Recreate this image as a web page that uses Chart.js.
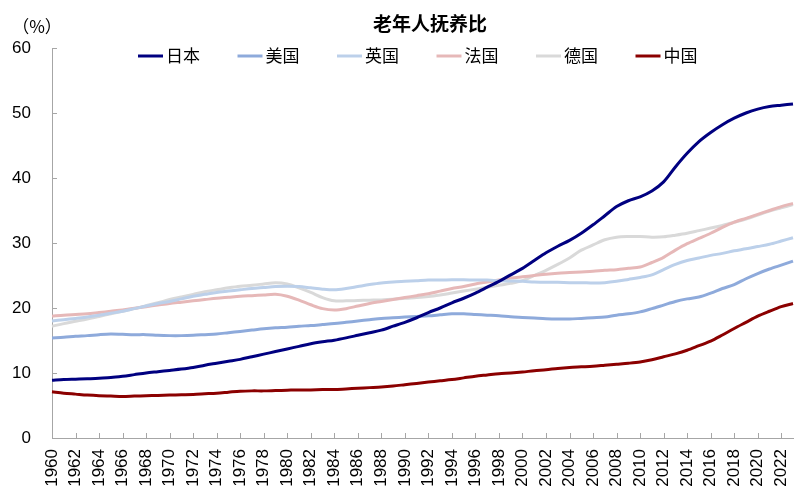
<!DOCTYPE html>
<html>
<head>
<meta charset="utf-8">
<script src="https://cdn.jsdelivr.net/npm/chart.js@4.4.0/dist/chart.umd.min.js"></script>
<style>
    html, body { margin: 0; padding: 0; background: #fff; }
    #wrap { width: 812px; height: 501px; }
</style>
</head>
<body>
<div id="wrap"><canvas id="chart"></canvas></div>
<script>
const titleText = "老年人抚养比";
const unitText = "（%）";

const years = [
    "1960", "1961", "1962", "1963", "1964", "1965", "1966", "1967", "1968", "1969",
    "1970", "1971", "1972", "1973", "1974", "1975", "1976", "1977", "1978", "1979",
    "1980", "1981", "1982", "1983", "1984", "1985", "1986", "1987", "1988", "1989",
    "1990", "1991", "1992", "1993", "1994", "1995", "1996", "1997", "1998", "1999",
    "2000", "2001", "2002", "2003", "2004", "2005", "2006", "2007", "2008", "2009",
    "2010", "2011", "2012", "2013", "2014", "2015", "2016", "2017", "2018", "2019",
    "2020", "2021", "2022", "2023"
];

const yTicks = [0, 10, 20, 30, 40, 50, 60];

const seriesNames = ["日本", "美国", "英国", "法国", "德国", "中国"];

const japan = [
    8.9, 9.0, 9.05, 9.1, 9.2, 9.3, 9.5, 9.75, 10.0, 10.2,
    10.4, 10.6, 10.85, 11.2, 11.5, 11.8, 12.1, 12.5, 12.9, 13.3,
    13.7, 14.1, 14.5, 14.8, 15.05, 15.4, 15.8, 16.2, 16.6, 17.2,
    17.8, 18.5, 19.3, 20.0, 20.8, 21.5, 22.3, 23.2, 24.1, 25.1,
    26.1, 27.3, 28.5, 29.5, 30.4, 31.5, 32.8, 34.2, 35.6, 36.5,
    37.1, 38.0, 39.4, 41.7, 43.8, 45.6, 47.0, 48.2, 49.2, 50.0,
    50.6, 51.0, 51.2, 51.4
];

const usa = [
    15.4, 15.5, 15.65, 15.75, 15.9, 16.0, 15.95, 15.9, 15.9, 15.8,
    15.75, 15.75, 15.8, 15.9, 16.0, 16.2, 16.4, 16.6, 16.8, 16.95,
    17.05, 17.2, 17.3, 17.45, 17.6, 17.8, 18.0, 18.2, 18.4, 18.5,
    18.6, 18.7, 18.8, 18.95, 19.1, 19.1, 19.0, 18.9, 18.8, 18.65,
    18.55, 18.45, 18.35, 18.3, 18.3, 18.4, 18.5, 18.6, 18.9, 19.1,
    19.4, 19.9, 20.45, 21.0, 21.4, 21.7, 22.3, 23.0, 23.6, 24.5,
    25.3, 26.0, 26.6, 27.2
];

const uk = [
    18.0, 18.2, 18.4, 18.6, 18.9, 19.2, 19.5, 19.9, 20.3, 20.7,
    21.0, 21.4, 21.8, 22.1, 22.4, 22.6, 22.8, 23.0, 23.15, 23.3,
    23.35, 23.3, 23.1, 22.9, 22.8, 23.0, 23.3, 23.6, 23.85, 24.0,
    24.1, 24.2, 24.3, 24.3, 24.35, 24.35, 24.3, 24.3, 24.2, 24.15,
    24.1, 24.0, 23.95, 23.95, 23.9, 23.9, 23.85, 23.9, 24.1, 24.4,
    24.7, 25.1, 25.9, 26.7, 27.3, 27.7, 28.1, 28.4, 28.8, 29.1,
    29.45, 29.8, 30.3, 30.8
];

const france = [
    18.75, 18.9, 19.0, 19.1, 19.3, 19.5, 19.7, 19.95, 20.2, 20.45,
    20.7, 20.9, 21.1, 21.3, 21.5, 21.65, 21.8, 21.9, 22.0, 22.1,
    21.8, 21.2, 20.5, 19.9, 19.7, 19.9, 20.3, 20.7, 21.0, 21.3,
    21.6, 21.9, 22.2, 22.6, 23.0, 23.3, 23.7, 24.0, 24.3, 24.6,
    24.8, 25.0, 25.2, 25.35, 25.45, 25.55, 25.65, 25.8, 25.9, 26.1,
    26.3, 27.0, 27.8, 28.9, 29.9, 30.7, 31.5, 32.4, 33.2, 33.8,
    34.4, 35.0, 35.6, 36.1
];

const germany = [
    17.2, 17.6, 17.95, 18.3, 18.7, 19.1, 19.5, 19.9, 20.35, 20.8,
    21.3, 21.7, 22.1, 22.5, 22.8, 23.1, 23.35, 23.5, 23.7, 23.9,
    23.7, 23.1, 22.4, 21.6, 21.1, 21.1, 21.15, 21.2, 21.25, 21.35,
    21.5, 21.6, 21.75, 22.0, 22.3, 22.6, 22.9, 23.2, 23.5, 23.8,
    24.2, 25.0, 25.8, 26.7, 27.7, 28.9, 29.7, 30.5, 30.9, 31.0,
    31.0, 30.9, 30.95, 31.2, 31.5, 31.9, 32.3, 32.7, 33.2, 33.7,
    34.3, 34.9, 35.4, 35.9
];

const china = [
    7.1, 6.9, 6.75, 6.6, 6.5, 6.45, 6.4, 6.45, 6.5, 6.55,
    6.6, 6.65, 6.7, 6.8, 6.9, 7.05, 7.2, 7.25, 7.25, 7.3,
    7.35, 7.4, 7.4, 7.45, 7.45, 7.55, 7.65, 7.75, 7.85, 8.0,
    8.2, 8.4, 8.6, 8.8, 9.0, 9.25, 9.5, 9.7, 9.9, 10.0,
    10.15, 10.35, 10.5, 10.7, 10.85, 10.95, 11.05, 11.2, 11.35, 11.5,
    11.7, 12.05, 12.5, 12.95, 13.5, 14.2, 14.9, 15.85, 16.85, 17.8,
    18.75, 19.5, 20.2, 20.7
];

const seriesValues = [japan, usa, uk, france, germany, china];
const seriesColors = ["#000080", "#8eaadb", "#bcd0ea", "#e6b8b8", "#d9d9d9", "#8b0000"];

const axisColor = "#a6a6a6";
const latinFont = "'Liberation Sans', Arial, sans-serif";
const cjkFont = "'Noto Sans CJK SC', sans-serif";

// title, unit, legend and inward tick marks
const decorPlugin = {
    id: "decor",
    afterDraw(chart) {
        const ctx = chart.ctx;
        const area = chart.chartArea;
        const xs = chart.scales.x;
        const ys = chart.scales.y;

        ctx.save();
        ctx.strokeStyle = axisColor;
        ctx.lineWidth = 1;
        ctx.beginPath();
        yTicks.forEach(v => {
            const py = Math.round(ys.getPixelForValue(v)) + 0.5;
            ctx.moveTo(area.left, py);
            ctx.lineTo(area.left + 5, py);
        });
        years.forEach((yr, i) => {
            if (i % 2) return;
            const px = Math.round(xs.getPixelForValue(i)) + 0.5;
            ctx.moveTo(px, area.bottom);
            ctx.lineTo(px, area.bottom - 5);
        });
        ctx.stroke();

        ctx.fillStyle = "#000";
        ctx.textBaseline = "middle";
        ctx.textAlign = "center";
        ctx.font = "bold 19px " + cjkFont;
        ctx.fillText(titleText, 430, 24);

        ctx.font = "17px " + cjkFont;
        ctx.fillText(unitText, 37, 27);

        // LEGEND
        ctx.textAlign = "left";
        ctx.font = "17px " + cjkFont;
        seriesNames.forEach((name, i) => {
            const x0 = 138 + i * 99.5;
            ctx.strokeStyle = seriesColors[i];
            ctx.lineWidth = 3;
            ctx.beginPath();
            ctx.moveTo(x0, 56);
            ctx.lineTo(x0 + 25, 56);
            ctx.stroke();
            ctx.fillText(name, x0 + 28, 56);
        });
        ctx.restore();
    }
};

new Chart(document.getElementById("chart"), {
    type: "line",
    data: {
        labels: years,
        datasets: seriesNames.map((name, i) => ({
            label: name,
            data: seriesValues[i],
            borderColor: seriesColors[i],
            backgroundColor: seriesColors[i],
            borderWidth: 3,
            pointRadius: 0,
            tension: 0.3,
            fill: false
        }))
    },
    options: {
        responsive: true,
        maintainAspectRatio: false,
        animation: false,
        layout: { padding: { top: 48, left: 12, right: 19, bottom: 0 } },
        plugins: {
            legend: { display: false },
            title: { display: false },
            tooltip: { enabled: false }
        },
        scales: {
            x: {
                type: "category",
                offset: false,
                grid: { display: false, drawTicks: false },
                border: { color: axisColor, width: 1 },
                afterFit: s => {
                    s.height = 63;
                    s.paddingLeft = 0;
                    s.paddingRight = 0;
                },
                ticks: {
                    autoSkip: false,
                    minRotation: 90,
                    maxRotation: 90,
                    padding: 11,
                    color: "#000",
                    font: { size: 17, family: latinFont },
                    callback: function (val, idx) {
                        return idx % 2 === 0 ? this.getLabelForValue(val) : "";
                    }
                }
            },
            y: {
                min: 0,
                max: 60,
                grid: { display: false, drawTicks: false },
                border: { color: axisColor, width: 1 },
                afterFit: s => {
                    s.width = 40;
                },
                ticks: {
                    stepSize: 10,
                    padding: 21,
                    color: "#000",
                    font: { size: 17, family: latinFont }
                }
            }
        }
    },
    plugins: [decorPlugin]
});
</script>
</body>
</html>
